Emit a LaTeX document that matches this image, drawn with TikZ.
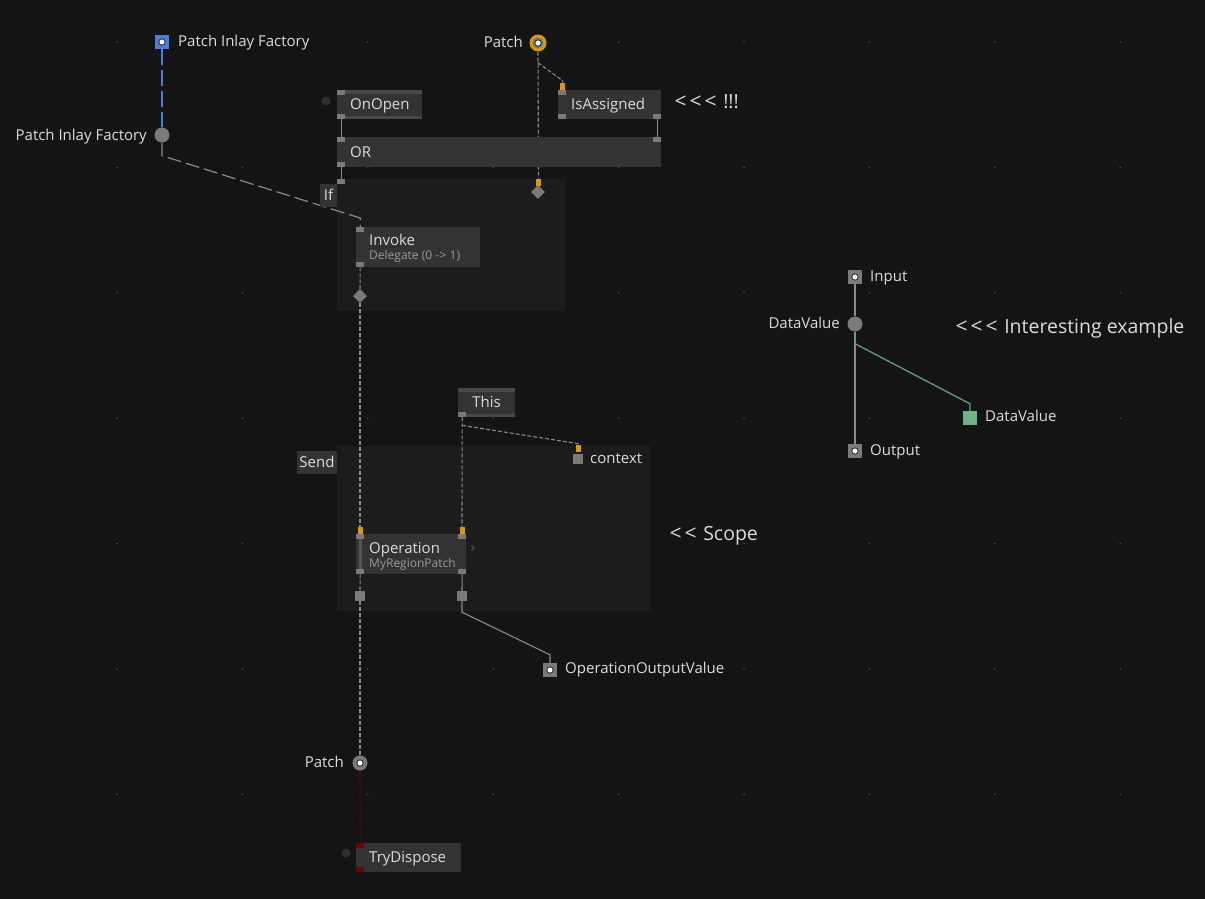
\documentclass[tikz,border=0pt]{standalone}
\usepackage{fontspec}
\setmainfont{Open Sans}[Ligatures=TeXOff]
\usetikzlibrary{shapes.geometric}
\definecolor{bgc}{HTML}{141414}
\definecolor{regc}{HTML}{1C1C1C}
\definecolor{nodec}{HTML}{333333}
\definecolor{stripc}{HTML}{484848}
\definecolor{barc}{HTML}{555555}
\definecolor{chevc}{HTML}{5A5A5A}
\definecolor{pinc}{HTML}{7A7A7A}
\definecolor{orc}{HTML}{D99A00}
\definecolor{linec}{HTML}{8A8A8A}
\definecolor{txtc}{HTML}{DCDCDC}
\definecolor{subc}{HTML}{9A9A9A}
\definecolor{darkc}{HTML}{2E2E2E}
\definecolor{bluec}{HTML}{4A7FD8}
\definecolor{greenc}{HTML}{6DB385}
\definecolor{greenl}{HTML}{5FA075}
\definecolor{redc}{HTML}{700000}
\definecolor{dotc}{HTML}{4A4A4A}
\newcommand{\lblf}{\fontsize{15}{18}\selectfont}
\newcommand{\nodf}{\fontsize{15}{18}\selectfont}
\newcommand{\subf}{\fontsize{12}{14}\selectfont}
\newcommand{\bigf}{\fontsize{19.5}{23}\selectfont}
\newcommand{\ltg}{\makebox[15pt][c]{\fontsize{21}{23}\selectfont <}}
\pgfdeclarelayer{bg}
\pgfdeclarelayer{edges}
\pgfsetlayers{bg,edges,main}
\begin{document}
\begin{tikzpicture}[x=1pt,y=-1pt,
  box/.style={fill=nodec, draw=none, inner sep=0pt, anchor=north west},
  strips/.style={path picture={
      \fill[stripc] (path picture bounding box.north west) rectangle ([yshift=-4pt]path picture bounding box.north east);
      \fill[stripc] (path picture bounding box.south west) rectangle ([yshift=3.5pt]path picture bounding box.south east);}},
  region/.style={fill=regc, draw=none, inner sep=0pt, anchor=north west},
  ntxt/.style={font=\nodf, text=txtc, inner sep=0pt, anchor=base west},
  stxt/.style={font=\subf, text=subc, inner sep=0pt, anchor=base west},
  pinn/.style={fill=pinc, draw=none, inner sep=0pt, minimum width=8pt, minimum height=5pt},
  opin/.style={fill=orc, draw=none, inner sep=0pt, minimum width=5pt, minimum height=7pt, anchor=south},
  rpin/.style={fill=redc, draw=none, inner sep=0pt, minimum width=8pt, minimum height=5pt},
  dia/.style={diamond, fill=pinc, draw=none, inner sep=0pt, minimum width=14pt, minimum height=14pt},
  sq/.style={fill=pinc, draw=none, inner sep=0pt, minimum size=10pt},
  dotmark/.style={path picture={
      \fill[black!85] (path picture bounding box.center) circle (3.6pt);
      \fill[white] (path picture bounding box.center) circle (2.6pt);}},
  pad/.style={fill=pinc, draw=none, inner sep=0pt, minimum size=14pt, dotmark},
  ball/.style={circle, fill=pinc, draw=none, inner sep=0pt, minimum size=15pt},
  dball/.style={circle, fill=darkc, draw=none, inner sep=0pt, minimum size=9pt},
  lblw/.style={font=\lblf, text=txtc, inner sep=0pt, anchor=base west},
  lble/.style={font=\lblf, text=txtc, inner sep=0pt, anchor=base east},
  big/.style={font=\bigf, text=txtc, inner sep=0pt, anchor=base west},
  solidl/.style={draw=linec, line width=1.1pt},
  fdash/.style={draw=linec, line width=1.1pt, dash pattern=on 4pt off 2pt},
  ldash/.style={draw=linec, line width=1.2pt, dash pattern=on 14pt off 5pt},
  bluel/.style={draw=bluec, line width=1.3pt, dash pattern=on 16pt off 5pt},
  redl/.style={draw=redc, line width=1.1pt, dash pattern=on 4pt off 2pt},
  greenline/.style={draw=greenl, line width=1.3pt},
]
\begin{pgfonlayer}{bg}
  \fill[bgc] (0,0) rectangle (1205,899);
  \foreach \i in {0,...,8} \foreach \j in {0,...,6}
    \fill[dotc] ({117+125.4*\i},{42+125.4*\j}) circle (0.9pt);
  \node[region, minimum width=228pt, minimum height=132pt] (ifr) at (337,179) {};
  \node[region, minimum width=313pt, minimum height=165pt] (sendr) at (337,446) {};
\end{pgfonlayer}

% --- top left
\node[pad, fill=bluec] (pifpad) at (162,42) {};
\node[lblw] (pifpadl) at (178,46.5) {Patch Inlay Factory};
\node[ball] (pifc) at (162,135) {};
\node[lble] (pifcl) at (147,140.5) {Patch Inlay Factory};

% --- Patch top
\node[circle, fill=orc, inner sep=0pt, minimum size=17pt, path picture={
   \fill[pinc] (path picture bounding box.center) circle (5.6pt);
   \fill[black!85] (path picture bounding box.center) circle (3.6pt);
   \fill[white] (path picture bounding box.center) circle (2.6pt);}] (patchtop) at (538,43) {};
\node[lble] (patchtopl) at (523,47.5) {Patch};

% --- OnOpen
\node[box, strips, minimum width=85pt, minimum height=29pt] (onopen) at (337,90) {};
\node[ntxt] (onopen-txt) at (350,109.5) {OnOpen};
\node[pinn, anchor=north west] (onopen-t) at (onopen.north west) {};
\node[pinn, anchor=south west] (onopen-b) at (onopen.south west) {};
\node[dball] (onopend) at (326,101) {};

% --- IsAssigned
\node[box, minimum width=103pt, minimum height=29pt] (isa) at (558,90) {};
\node[ntxt] (isa-txt) at (571,109.5) {IsAssigned};
\node[pinn, anchor=north west] (isa-t) at (isa.north west) {};
\node[pinn, anchor=south west] (isa-bl) at (isa.south west) {};
\node[pinn, anchor=south east] (isa-br) at (isa.south east) {};
\node[opin] (isa-o) at (562.5,90) {};
\node[big] (note1) at (673,108.5) {\ltg\ltg\ltg\ !!!};

% --- OR
\node[box, minimum width=324pt, minimum height=30pt] (or) at (337,137) {};
\node[ntxt] (or-txt) at (350,157) {OR};
\node[pinn, anchor=north west] (or-tl) at (or.north west) {};
\node[pinn, anchor=north east] (or-tr) at (or.north east) {};
\node[pinn, anchor=south west] (or-bl) at (or.south west) {};

% --- If region
\node[pinn, anchor=north west] (if-t) at (ifr.north west) {};
\node[box, minimum width=17pt, minimum height=23pt] (iflab) at (320,184) {};
\node[ntxt, anchor=base] (iflab-txt) at (328.5,200) {If};
\node[dia] (if-d) at (538,192) {};
\node[opin] (if-o) at (538.5,186) {};

% --- Invoke
\node[box, minimum width=124pt, minimum height=40pt] (inv) at (356,227) {};
\node[ntxt] (inv-txt) at (369,245) {Invoke};
\node[stxt] (inv-sub) at (369,259) {Delegate (0 -\kern0.5pt> 1)};
\node[pinn, anchor=north west] (inv-t) at (inv.north west) {};
\node[pinn, anchor=south west] (inv-b) at (inv.south west) {};
\node[dia] (inv-d) at (360,296) {};

% --- This
\node[box, strips, minimum width=57pt, minimum height=29pt] (this) at (458,388) {};
\node[ntxt, anchor=base] (this-txt) at (486.5,407.5) {This};
\node[pinn, anchor=south west] (this-b) at (this.south west) {};

% --- Send region
\node[box, minimum width=40pt, minimum height=23pt] (sendlab) at (297,451) {};
\node[ntxt, anchor=base] (sendlab-txt) at (317,467) {Send};
\node[opin] (ctx-o) at (578,452) {};
\node[sq] (ctx) at (578,459) {};
\node[lblw] (ctxl) at (590,463.5) {context};
\node[big] (note2) at (668,540.5) {\ltg\ltg\ Scope};

% --- Operation
\node[box, minimum width=110pt, minimum height=40pt] (op) at (356,534) {};
\node[ntxt] (op-txt) at (369,553.5) {Operation};
\node[stxt] (op-sub) at (369,567.5) {MyRegionPatch};
\fill[barc] (359,537) rectangle (361.5,571);
\node[pinn, anchor=north west] (op-tl) at (op.north west) {};
\node[pinn, anchor=north east] (op-tr) at (op.north east) {};
\node[pinn, anchor=south west] (op-bl) at (op.south west) {};
\node[pinn, anchor=south east] (op-br) at (op.south east) {};
\node[opin] (op-ol) at (360,534) {};
\node[opin] (op-or) at (462,534) {};
\node[text=chevc, font=\lblf, inner sep=0pt] (chev) at (473,549) {›};
\node[sq] (sq-l) at (360,596) {};
\node[sq] (sq-r) at (462,596) {};

\node[pad] (opout) at (550,670) {};
\node[lblw] (opoutl) at (565,673.5) {OperationOutputValue};

% --- Patch bottom + TryDispose
\node[ball, dotmark] (pb) at (360,763) {};
\node[lble] (pbl) at (344,767.5) {Patch};
\node[box, minimum width=105pt, minimum height=29pt] (td) at (356,843) {};
\node[ntxt] (td-txt) at (369,862.5) {TryDispose};
\node[rpin, anchor=north west] (td-t) at (td.north west) {};
\node[rpin, anchor=south west] (td-b) at (td.south west) {};
\node[dball] (tdd) at (346,853) {};

% --- right example
\node[pad] (inp) at (855,277) {};
\node[lblw] (inpl) at (870,281.5) {Input};
\node[ball] (dv) at (855,324) {};
\node[lble] (dvl) at (840,328.5) {DataValue};
\node[pad] (outp) at (855,451) {};
\node[lblw] (outpl) at (870,455.5) {Output};
\node[fill=greenc, inner sep=0pt, minimum size=14pt] (gsq) at (970,418) {};
\node[lblw] (gsql) at (985,421.5) {DataValue};
\node[big] (note3) at (954,333) {\ltg\ltg\ltg\ Interesting example};

\begin{pgfonlayer}{edges}
  \draw[bluel] (pifpad.south) -- (pifc.north);
  \draw[ldash] (pifc.south) -- ++(0,13) -- ([yshift=9pt]inv-t.north) -- (inv-t.north);
  \draw[fdash] (patchtop.south) -- (if-o.north);
  \draw[fdash] ([yshift=-11pt]patchtop.south) -- ([yshift=2pt]isa-o.north) -- (isa-o.north);
  \draw[solidl] (onopen-b.south) -- (or-tl.north);
  \draw[solidl] (isa-br.south) -- (or-tr.north);
  \draw[solidl] (or-bl.south) -- (if-t.north);
  \draw[fdash] (inv-b.south) -- (inv-d.north);
  \draw[fdash] (inv-d.south) -- (op-ol.north);
  \draw[fdash] (this-b.south) -- (op-or.north);
  \draw[fdash] ([yshift=-8pt]this-b.south) -- ([yshift=1pt]ctx-o.north) -- (ctx-o.north);
  \draw[fdash] (op-bl.south) -- (sq-l.north);
  \draw[fdash] (sq-l.south) -- (pb.north);
  \draw[solidl] (op-br.south) -- (sq-r.north);
  \draw[solidl] (sq-r.south) -- ++(0,11) -- ([yshift=8pt]opout.north) -- (opout.north);
  \draw[redl] (pb.south) -- (td-t.north);
  \draw[solidl] (inp.south) -- (dv.north);
  \draw[solidl] (dv.south) -- (outp.north);
  \draw[greenline] (dv.south) -- ++(0,12) -- ([yshift=7pt]gsq.north) -- (gsq.north);
\end{pgfonlayer}
\end{tikzpicture}
\end{document}
